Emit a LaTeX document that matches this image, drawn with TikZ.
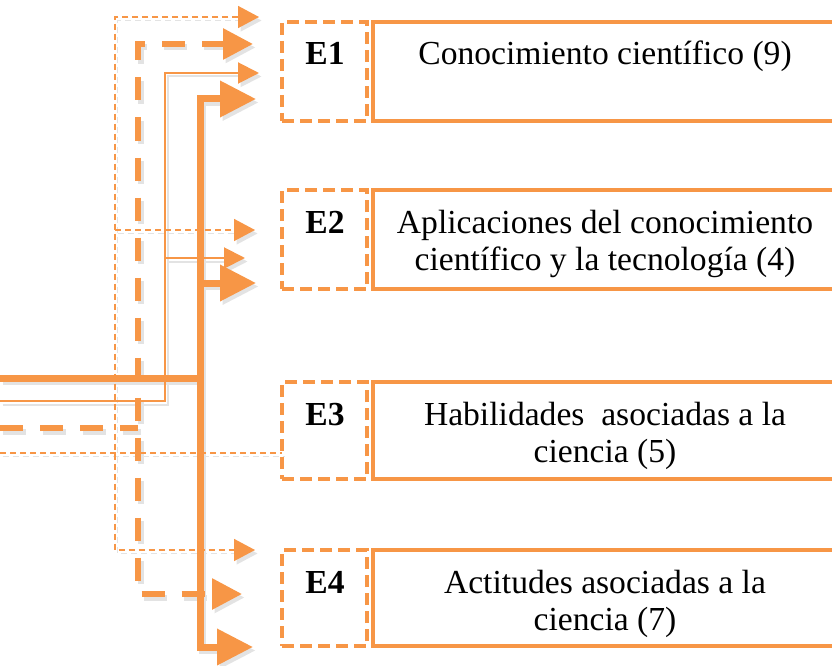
\documentclass[tikz,border=0pt]{standalone}
\usepackage{fontspec}
\setmainfont{Liberation Serif}
\usetikzlibrary{arrows.meta}
\definecolor{eorange}{HTML}{F79646}
\colorlet{lc}{eorange}
\newcommand{\drawconnectors}{%
  % thin dashed
  \draw[td] (tdS) -- (tdS -| E3e.west);
  \draw[td, {Triangle[length=21pt,width=22pt]}-{Triangle[length=21pt,width=22pt]}, shorten <=23pt, shorten >=27pt]
    (tdT -| E1e.west) -- (tdT) -- (tdB) -- (tdB -| E4e.west);
  \draw[tdA, shorten >=27pt] (tdM) -- (tdM -| E2e.west);
  % thick dashed
  \draw[kd] (kdS) -- (kdC);
  \draw[kd, {Triangle[length=30pt,width=30pt]}-{Triangle[length=30pt,width=30pt]}, shorten <=29pt, shorten >=40pt]
    (kdT -| E1e.west) -- (kdT) -- (kdB) -- (kdB -| E4e.west);
  % thin solid
  \draw[tsA, shorten >=23pt] (tsS) -- (tsC) -- (tsT) -- (tsT -| E1e.west);
  \draw[tsA, shorten >=37pt] (tsM) -- (tsM -| E2e.west);
  % thick solid
  \draw[ks] (ksS) -- (ksC);
  \draw[ks, {Triangle[length=36pt,width=35pt]}-{Triangle[length=36pt,width=35pt]}, shorten <=26pt, shorten >=29pt]
    (ksT -| E1e.west) -- (ksT) -- (ksB) -- (ksB -| E4e.west);
  \draw[ksA, shorten >=26pt] (ksM) -- (ksM -| E2e.west);
}
\begin{document}
\begin{tikzpicture}[x=1pt,y=-1pt,
  ebox/.style={draw=eorange, line width=4pt, dash pattern=on 12pt off 6pt, rectangle, inner sep=0pt, outer sep=0pt, minimum width=85pt},
  tbox/.style={draw=eorange, line width=4pt, rectangle, inner sep=0pt, outer sep=0pt, minimum width=467pt},
  txt/.style={font=\fontsize{33.6}{37}\selectfont, anchor=base, inner sep=0pt, text=black},
  lbl/.style={txt, font=\fontsize{33.6}{37}\selectfont\bfseries},
  td/.style={draw=lc, line width=1.5pt, dash pattern=on 6pt off 4pt},
  tdA/.style={td, -{Triangle[length=21pt,width=22pt]}},
  kd/.style={draw=lc, line width=6pt, dash pattern=on 23pt off 17pt},
  ts/.style={draw=lc, line width=2pt},
  tsA/.style={ts, -{Triangle[length=21pt,width=21pt]}},
  ks/.style={draw=lc, line width=7pt},
  ksA/.style={ks, -{Triangle[length=36pt,width=35pt]}}
]
\useasboundingbox (0,0) rectangle (832,666);
\clip (0,0) rectangle (832,666);

% coordinates
\coordinate (tdS) at (0,453);
\coordinate (tdT) at (115,17);
\coordinate (tdM) at (115,230);
\coordinate (tdB) at (115,550);
\coordinate (kdS) at (0,428);
\coordinate (kdC) at (138,428);
\coordinate (kdT) at (138,44);
\coordinate (kdB) at (138,594);
\coordinate (tsS) at (0,401);
\coordinate (tsC) at (165,401);
\coordinate (tsT) at (165,73);
\coordinate (tsM) at (165,258);
\coordinate (ksS) at (0,378);
\coordinate (ksC) at (203.5,378);
\coordinate (ksT) at (200,99);
\coordinate (ksM) at (200,283);
\coordinate (ksB) at (200,647);

% boxes (invisible first pass for names)
\path (324.5,71.5) node[minimum width=85pt, minimum height=99pt, inner sep=0pt, outer sep=0pt] (E1e) {};
\path (324.5,239.5) node[minimum width=85pt, minimum height=99pt, inner sep=0pt, outer sep=0pt] (E2e) {};
\path (324.5,430.5) node[minimum width=85pt, minimum height=97pt, inner sep=0pt, outer sep=0pt] (E3e) {};
\path (324.5,598) node[minimum width=85pt, minimum height=96pt, inner sep=0pt, outer sep=0pt] (E4e) {};

% shadows
\begin{scope}[transform canvas={shift={(2.5pt,-3.5pt)}}]
  \colorlet{lc}{black!11}
  \drawconnectors
\end{scope}

% boxes
\node[ebox, minimum height=99pt] (E1b) at (E1e) {};
\node[tbox, minimum height=99pt] (E1t) at (606.5,71.5) {};
\node[ebox, minimum height=99pt] (E2b) at (E2e) {};
\node[tbox, minimum height=99pt] (E2t) at (606.5,239.5) {};
\node[ebox, minimum height=97pt] (E3b) at (E3e) {};
\node[tbox, minimum height=97pt] (E3t) at (606.5,430.5) {};
\node[ebox, minimum height=96pt] (E4b) at (E4e) {};
\node[tbox, minimum height=96pt] (E4t) at (606.5,598) {};

% labels
\node[lbl] (L1) at (325,65) {E1};
\node[lbl] (L2) at (325,233) {E2};
\node[lbl] (L3) at (325,425) {E3};
\node[lbl] (L4) at (325,593) {E4};

% texts
\node[txt] (T1) at (605,65) {Conocimiento científico (9)};
\node[txt] (T2a) at (605,233) {Aplicaciones del conocimiento};
\node[txt] (T2b) at (605,270) {científico y la tecnología (4)};
\node[txt] (T3a) at (605,425) {Habilidades~ asociadas a la};
\node[txt] (T3b) at (605,462) {ciencia (5)};
\node[txt] (T4a) at (605,593) {Actitudes asociadas a la};
\node[txt] (T4b) at (605,630) {ciencia (7)};

% connectors
\colorlet{lc}{eorange}
\drawconnectors
\end{tikzpicture}
\end{document}
